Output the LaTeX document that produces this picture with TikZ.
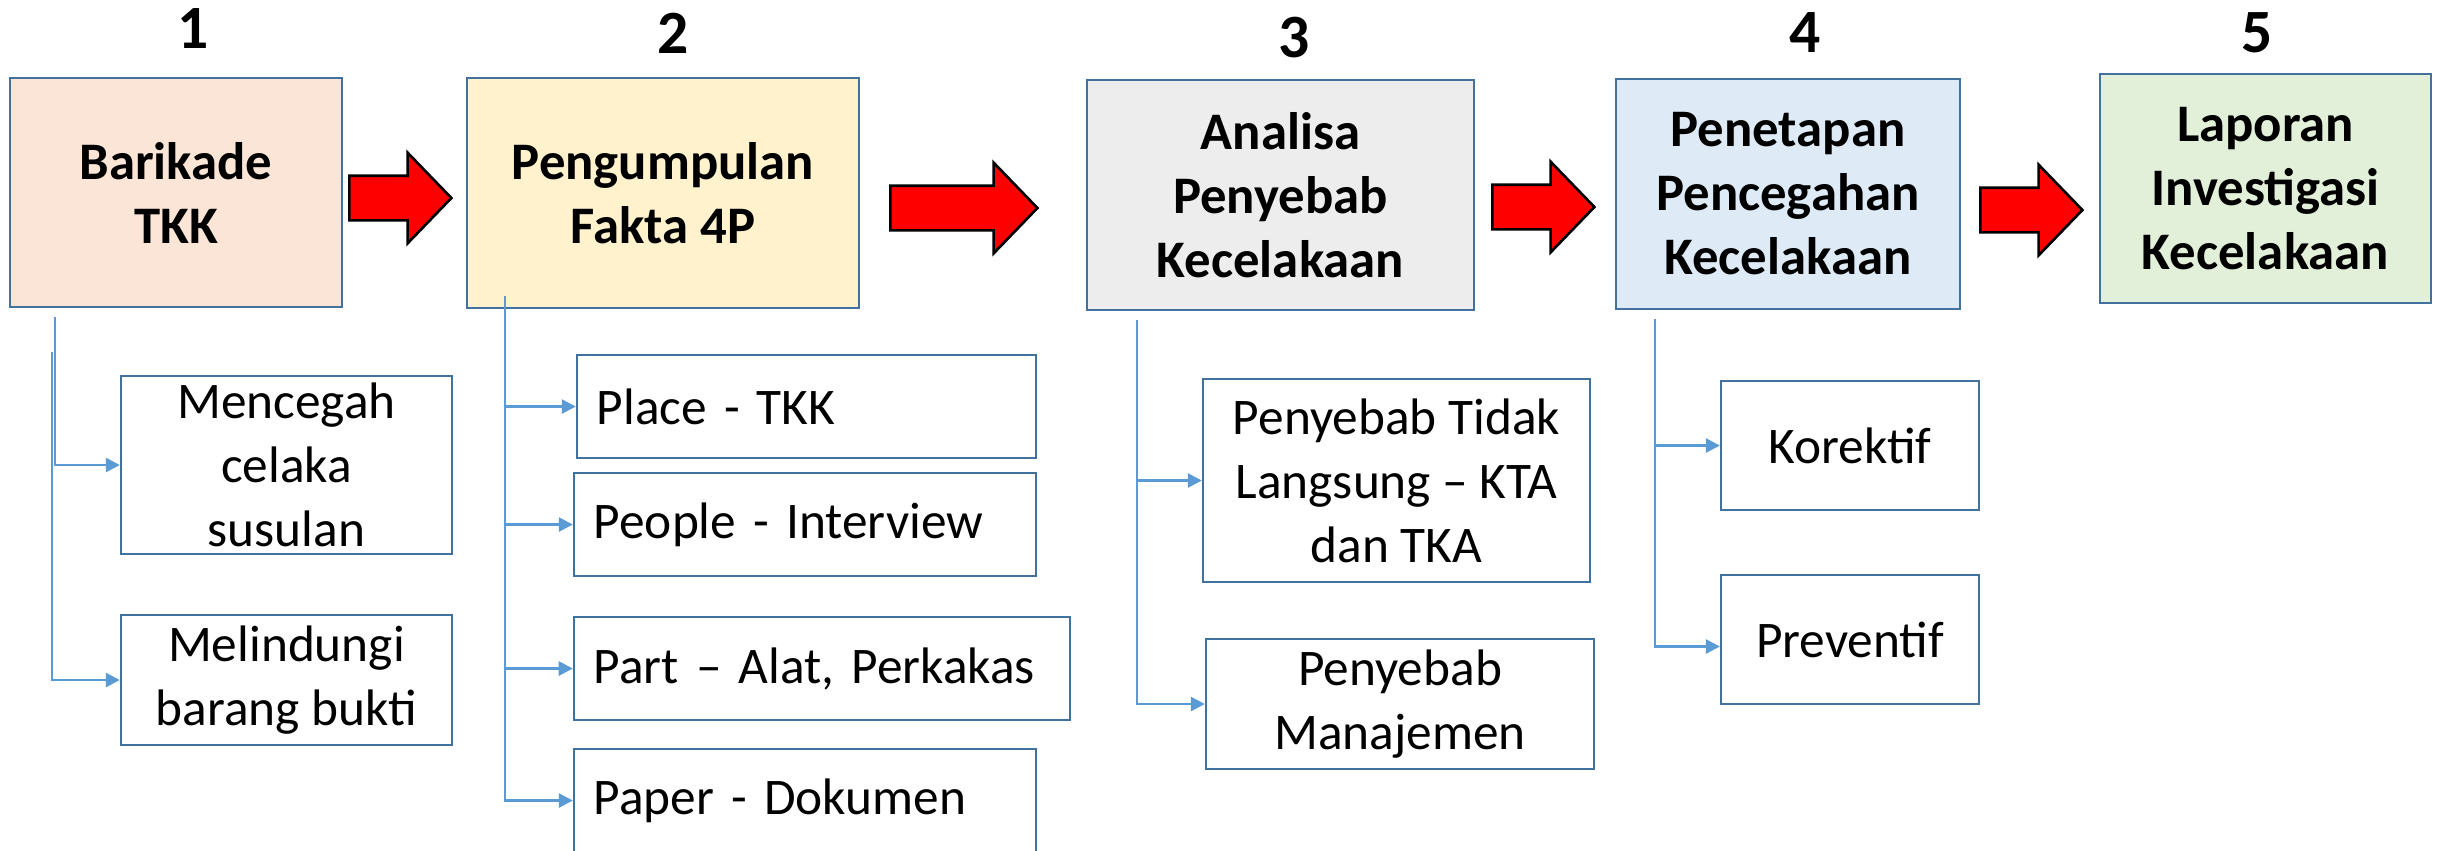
\documentclass[tikz,border=0pt]{standalone}
\usepackage{fontspec}
\setmainfont{Carlito}
\usepackage{tikz}
\usetikzlibrary{shapes.arrows, arrows.meta, positioning, calc}
\definecolor{boxline}{RGB}{65, 113, 156}
\definecolor{linkblue}{RGB}{91, 155, 213}
\definecolor{barpeach}{RGB}{251, 229, 214}
\definecolor{factyellow}{RGB}{255, 242, 204}
\definecolor{causegrey}{RGB}{237, 237, 237}
\definecolor{prevblue}{RGB}{222, 235, 247}
\definecolor{reportgreen}{RGB}{226, 240, 217}
\tikzset{
    stepbox/.style={draw=boxline, line width=0.6pt, inner sep=0pt, align=center,
                    font=\fontsize{15}{18.2}\selectfont\bfseries},
    subbox/.style={draw=boxline, line width=0.6pt, fill=white, inner sep=0pt, align=center,
                   font=\fontsize{14.6}{18.2}\selectfont},
    factbox/.style={subbox, align=left, inner xsep=0.2cm, text width=#1, minimum height=1.03cm},
    stepnum/.style={anchor=base, font=\fontsize{17.5}{20}\selectfont\bfseries},
    redarrow/.style={single arrow, draw=black, fill=red, line width=0.75pt, inner xsep=0pt,
                     inner ysep=0.21cm, single arrow head extend=0.23cm, single arrow tip angle=92,
                     minimum height=#1, anchor=tail},
    link/.style={draw=linkblue, line width=0.75pt, -{Triangle[length=4pt, width=4pt]}}
}
\begin{document}
\begin{tikzpicture}[x=0.01cm, y=-0.01cm]
    \useasboundingbox[fill=white] (0,0) rectangle (2440,850);

    \node[stepnum] (n1) at (193,48) {1};
    \node[stepnum] (n2) at (673,53) {2};
    \node[stepnum] (n3) at (1294,57) {3};
    \node[stepnum] (n4) at (1805,52) {4};
    \node[stepnum] (n5) at (2257,52) {5};

    \node[stepbox, fill=barpeach, minimum width=3.32cm, minimum height=2.29cm] (b1) at (176,192.5)
        {Barikade\\TKK};
    \node[stepbox, fill=factyellow, minimum width=3.92cm, minimum height=2.30cm] (b2) at (663,193)
        {Pengumpulan\\Fakta 4P};
    \node[stepbox, fill=causegrey, minimum width=3.87cm, minimum height=2.30cm] (b3) at (1280.5,195)
        {Analisa\\Penyebab\\Kecelakaan};
    \node[stepbox, fill=prevblue, minimum width=3.44cm, minimum height=2.30cm] (b4) at (1788,194)
        {Penetapan\\Pencegahan\\Kecelakaan};
    \node[stepbox, fill=reportgreen, minimum width=3.31cm, minimum height=2.29cm] (b5) at (2265.5,188.5)
        {Laporan\\Investigasi\\Kecelakaan};

    \node[redarrow=1.02cm] (a12) at (348,198) {};
    \node[redarrow=1.47cm] (a23) at (889,208) {};
    \node[redarrow=1.02cm] (a34) at (1491,207) {};
    \node[redarrow=1.02cm] (a45) at (1979,210) {};

    \node[subbox, minimum width=3.31cm, minimum height=1.78cm] (m1) at (286.5,465)
        {Mencegah\\celaka\\susulan};
    \node[subbox, minimum width=3.31cm, minimum height=1.30cm] (m2) at (286.5,680)
        {Melindungi\\barang bukti};

    \node[factbox=4.19cm] (p1) at (806.5,406.5) {Place - TKK};
    \node[factbox=4.22cm] (p2) at (805,524.5) {People - Interview};
    \node[factbox=4.56cm] (p3) at (822,668.5) {Part -- Alat, Perkakas};
    \node[factbox=4.22cm] (p4) at (805,800.5) {Paper - Dokumen};

    \node[subbox, minimum width=3.87cm, minimum height=2.03cm] (c1) at (1396.5,480.5)
        {Penyebab Tidak\\Langsung -- KTA\\dan TKA};
    \node[subbox, minimum width=3.88cm, minimum height=1.30cm] (c2) at (1400,704)
        {Penyebab\\Manajemen};

    \node[subbox, minimum width=2.58cm, minimum height=1.29cm] (k1) at (1850,445.5) {Korektif};
    \node[subbox, minimum width=2.58cm, minimum height=1.29cm] (k2) at (1850,639.5) {Preventif};

    \draw[link] ([shift={(46,9)}]b1.south west) |- (m1.west);
    \draw[link] ([shift={(43,44)}]b1.south west) |- (m2.west);
    \foreach \f in {p1,p2,p3,p4}
        \draw[link] ([shift={(39,-13)}]b2.south west) |- (\f.west);
    \draw[link] ([shift={(51,9)}]b3.south west) |- (c1.west);
    \draw[link] ([shift={(51,9)}]b3.south west) |- (c2.west);
    \draw[link] ([shift={(40,9)}]b4.south west) |- (k1.west);
    \draw[link] ([shift={(40,9)}]b4.south west) |- ([yshift=-0.07cm]k2.west);
\end{tikzpicture}
\end{document}
